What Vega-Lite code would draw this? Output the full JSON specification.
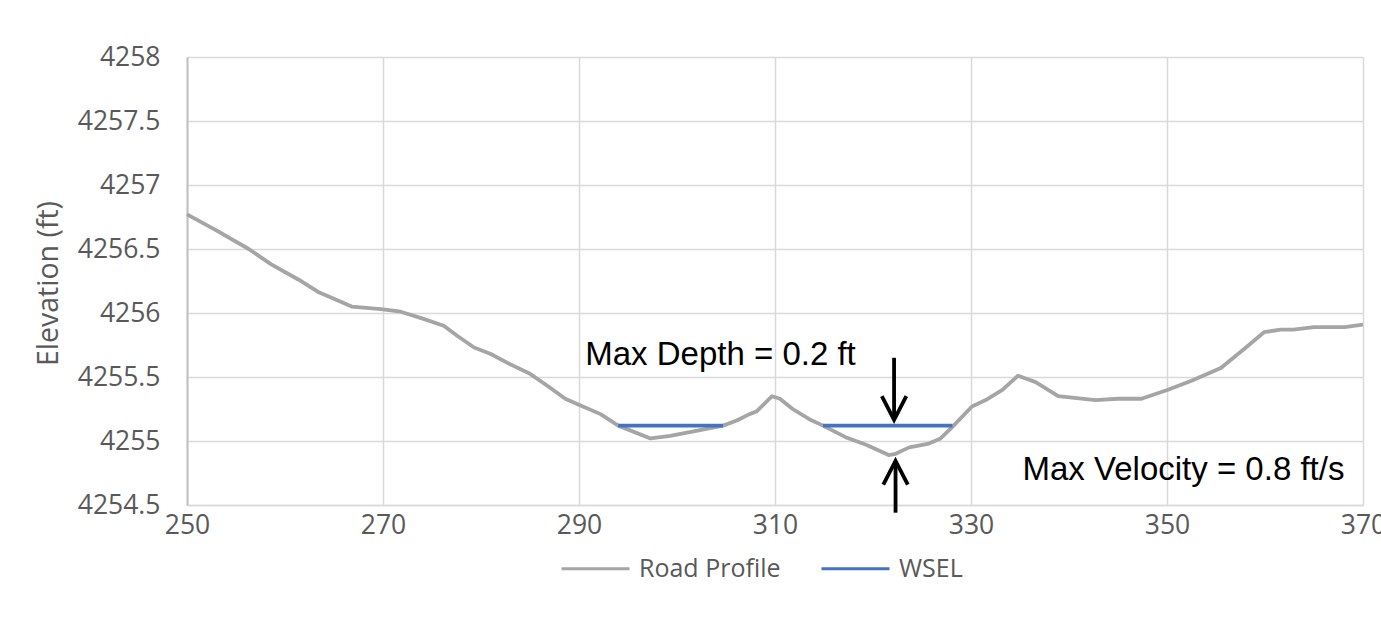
{
  "$schema": "https://vega.github.io/schema/vega-lite/v6.json",
  "autosize": {"type": "none"},
  "padding": {"left": 187, "top": 57, "right": 18, "bottom": 121},
  "width": 1176,
  "height": 448,
  "background": "white",
  "config": {
    "view": {"stroke": null},
    "font": "Open Sans",
    "axis": {
      "gridColor": "#D9D9D9",
      "gridWidth": 1.5,
      "labelColor": "#595959",
      "labelFont": "Open Sans",
      "labelFontSize": 26.5,
      "ticks": false,
      "tickSize": 0,
      "titleColor": "#595959",
      "titleFont": "Open Sans",
      "titleFontSize": 28.5,
      "titleFontWeight": "normal"
    }
  },
  "datasets": {
    "profile": [
      {"station": 250.0, "elev": 4256.77, "series": "Road Profile", "seg": "r"},
      {"station": 252.9, "elev": 4256.65, "series": "Road Profile", "seg": "r"},
      {"station": 256.3, "elev": 4256.50, "series": "Road Profile", "seg": "r"},
      {"station": 258.6, "elev": 4256.38, "series": "Road Profile", "seg": "r"},
      {"station": 261.4, "elev": 4256.26, "series": "Road Profile", "seg": "r"},
      {"station": 263.5, "elev": 4256.16, "series": "Road Profile", "seg": "r"},
      {"station": 264.4, "elev": 4256.13, "series": "Road Profile", "seg": "r"},
      {"station": 266.8, "elev": 4256.05, "series": "Road Profile", "seg": "r"},
      {"station": 269.8, "elev": 4256.03, "series": "Road Profile", "seg": "r"},
      {"station": 271.8, "elev": 4256.01, "series": "Road Profile", "seg": "r"},
      {"station": 273.9, "elev": 4255.96, "series": "Road Profile", "seg": "r"},
      {"station": 276.2, "elev": 4255.90, "series": "Road Profile", "seg": "r"},
      {"station": 277.6, "elev": 4255.82, "series": "Road Profile", "seg": "r"},
      {"station": 279.3, "elev": 4255.73, "series": "Road Profile", "seg": "r"},
      {"station": 281.0, "elev": 4255.68, "series": "Road Profile", "seg": "r"},
      {"station": 282.7, "elev": 4255.61, "series": "Road Profile", "seg": "r"},
      {"station": 284.9, "elev": 4255.53, "series": "Road Profile", "seg": "r"},
      {"station": 286.8, "elev": 4255.43, "series": "Road Profile", "seg": "r"},
      {"station": 288.6, "elev": 4255.33, "series": "Road Profile", "seg": "r"},
      {"station": 290.1, "elev": 4255.28, "series": "Road Profile", "seg": "r"},
      {"station": 292.2, "elev": 4255.21, "series": "Road Profile", "seg": "r"},
      {"station": 294.0, "elev": 4255.12, "series": "Road Profile", "seg": "r"},
      {"station": 297.3, "elev": 4255.02, "series": "Road Profile", "seg": "r"},
      {"station": 299.3, "elev": 4255.04, "series": "Road Profile", "seg": "r"},
      {"station": 301.3, "elev": 4255.07, "series": "Road Profile", "seg": "r"},
      {"station": 304.7, "elev": 4255.12, "series": "Road Profile", "seg": "r"},
      {"station": 306.1, "elev": 4255.16, "series": "Road Profile", "seg": "r"},
      {"station": 307.4, "elev": 4255.21, "series": "Road Profile", "seg": "r"},
      {"station": 308.1, "elev": 4255.23, "series": "Road Profile", "seg": "r"},
      {"station": 309.7, "elev": 4255.35, "series": "Road Profile", "seg": "r"},
      {"station": 310.5, "elev": 4255.33, "series": "Road Profile", "seg": "r"},
      {"station": 311.8, "elev": 4255.25, "series": "Road Profile", "seg": "r"},
      {"station": 313.5, "elev": 4255.17, "series": "Road Profile", "seg": "r"},
      {"station": 314.9, "elev": 4255.12, "series": "Road Profile", "seg": "r"},
      {"station": 317.2, "elev": 4255.03, "series": "Road Profile", "seg": "r"},
      {"station": 319.3, "elev": 4254.97, "series": "Road Profile", "seg": "r"},
      {"station": 321.6, "elev": 4254.89, "series": "Road Profile", "seg": "r"},
      {"station": 322.3, "elev": 4254.90, "series": "Road Profile", "seg": "r"},
      {"station": 323.7, "elev": 4254.95, "series": "Road Profile", "seg": "r"},
      {"station": 325.7, "elev": 4254.98, "series": "Road Profile", "seg": "r"},
      {"station": 326.9, "elev": 4255.02, "series": "Road Profile", "seg": "r"},
      {"station": 328.1, "elev": 4255.11, "series": "Road Profile", "seg": "r"},
      {"station": 330.1, "elev": 4255.27, "series": "Road Profile", "seg": "r"},
      {"station": 331.5, "elev": 4255.32, "series": "Road Profile", "seg": "r"},
      {"station": 333.2, "elev": 4255.40, "series": "Road Profile", "seg": "r"},
      {"station": 334.8, "elev": 4255.51, "series": "Road Profile", "seg": "r"},
      {"station": 336.6, "elev": 4255.46, "series": "Road Profile", "seg": "r"},
      {"station": 338.9, "elev": 4255.35, "series": "Road Profile", "seg": "r"},
      {"station": 342.7, "elev": 4255.32, "series": "Road Profile", "seg": "r"},
      {"station": 345.0, "elev": 4255.33, "series": "Road Profile", "seg": "r"},
      {"station": 347.4, "elev": 4255.33, "series": "Road Profile", "seg": "r"},
      {"station": 350.1, "elev": 4255.40, "series": "Road Profile", "seg": "r"},
      {"station": 352.5, "elev": 4255.47, "series": "Road Profile", "seg": "r"},
      {"station": 355.5, "elev": 4255.57, "series": "Road Profile", "seg": "r"},
      {"station": 357.9, "elev": 4255.72, "series": "Road Profile", "seg": "r"},
      {"station": 359.9, "elev": 4255.85, "series": "Road Profile", "seg": "r"},
      {"station": 361.6, "elev": 4255.87, "series": "Road Profile", "seg": "r"},
      {"station": 362.9, "elev": 4255.87, "series": "Road Profile", "seg": "r"},
      {"station": 365.0, "elev": 4255.89, "series": "Road Profile", "seg": "r"},
      {"station": 368.1, "elev": 4255.89, "series": "Road Profile", "seg": "r"},
      {"station": 370.0, "elev": 4255.91, "series": "Road Profile", "seg": "r"},
      {"station": 294.0, "elev": 4255.12, "series": "WSEL", "seg": "w1"},
      {"station": 304.7, "elev": 4255.12, "series": "WSEL", "seg": "w1"},
      {"station": 314.9, "elev": 4255.12, "series": "WSEL", "seg": "w2"},
      {"station": 328.1, "elev": 4255.12, "series": "WSEL", "seg": "w2"}
    ],
    "arrows": [
      {"id": "down_shaft", "o": 1, "station": 322.15, "elev": 4255.65},
      {"id": "down_shaft", "o": 2, "station": 322.15, "elev": 4255.17},
      {"id": "down_head", "o": 1, "station": 320.9, "elev": 4255.35},
      {"id": "down_head", "o": 2, "station": 322.15, "elev": 4255.165},
      {"id": "down_head", "o": 3, "station": 323.4, "elev": 4255.35},
      {"id": "up_shaft", "o": 1, "station": 322.3, "elev": 4254.44},
      {"id": "up_shaft", "o": 2, "station": 322.3, "elev": 4254.84},
      {"id": "up_head", "o": 1, "station": 321.05, "elev": 4254.66},
      {"id": "up_head", "o": 2, "station": 322.3, "elev": 4254.845},
      {"id": "up_head", "o": 3, "station": 323.55, "elev": 4254.66}
    ],
    "notes": [
      {"label": "Max Depth = 0.2 ft", "station": 304.44, "elev": 4255.594},
      {"label": "Max Velocity = 0.8 ft/s", "station": 351.68, "elev": 4254.695}
    ]
  },
  "layer": [
    {
      "data": {"name": "profile"},
      "mark": {"type": "line", "strokeWidth": 3.8, "strokeJoin": "round", "strokeCap": "butt", "clip": false},
      "encoding": {
        "x": {
          "field": "station", "type": "quantitative",
          "scale": {"domain": [250, 370], "nice": false, "zero": false},
          "axis": {
            "title": null, "values": [250, 270, 290, 310, 330, 350, 370], "format": "d",
            "labelPadding": 7, "domainColor": "#D9D9D9", "domainWidth": 1.5, "labelFlush": false
          }
        },
        "y": {
          "field": "elev", "type": "quantitative",
          "scale": {"domain": [4254.5, 4258], "nice": false, "zero": false},
          "axis": {
            "title": "Elevation (ft)",
            "values": [4254.5, 4255, 4255.5, 4256, 4256.5, 4257, 4257.5, 4258],
            "format": "~f", "labelPadding": 27, "domainColor": "#BFBFBF", "domainWidth": 2,
            "labelFlush": false, "titleX": -139, "titleY": 226, "titleBaseline": "middle", "titleAlign": "center"
          }
        },
        "color": {
          "field": "series", "type": "nominal",
          "scale": {"domain": ["Road Profile", "WSEL"], "range": ["#A5A5A5", "#4472C4"]},
          "legend": {
            "title": null, "orient": "none", "direction": "horizontal",
            "legendX": 373, "legendY": 476, "padding": 0,
            "symbolType": "stroke", "symbolSize": 4624, "symbolStrokeWidth": 3,
            "labelFont": "Open Sans", "labelFontSize": 25, "labelColor": "#595959",
            "labelOffset": 8, "columnPadding": 34
          }
        },
        "detail": {"field": "seg"}
      }
    },
    {
      "data": {"name": "arrows"},
      "mark": {"type": "line", "color": "black", "strokeWidth": 3.8, "strokeJoin": "miter", "strokeCap": "butt", "clip": false},
      "encoding": {
        "x": {"field": "station", "type": "quantitative"},
        "y": {"field": "elev", "type": "quantitative"},
        "detail": {"field": "id"},
        "order": {"field": "o"}
      }
    },
    {
      "data": {"name": "notes"},
      "mark": {"type": "text", "font": "Liberation Sans", "fontSize": 33, "color": "black", "align": "center", "baseline": "alphabetic"},
      "encoding": {
        "x": {"field": "station", "type": "quantitative"},
        "y": {"field": "elev", "type": "quantitative"},
        "text": {"field": "label"}
      }
    }
  ]
}
